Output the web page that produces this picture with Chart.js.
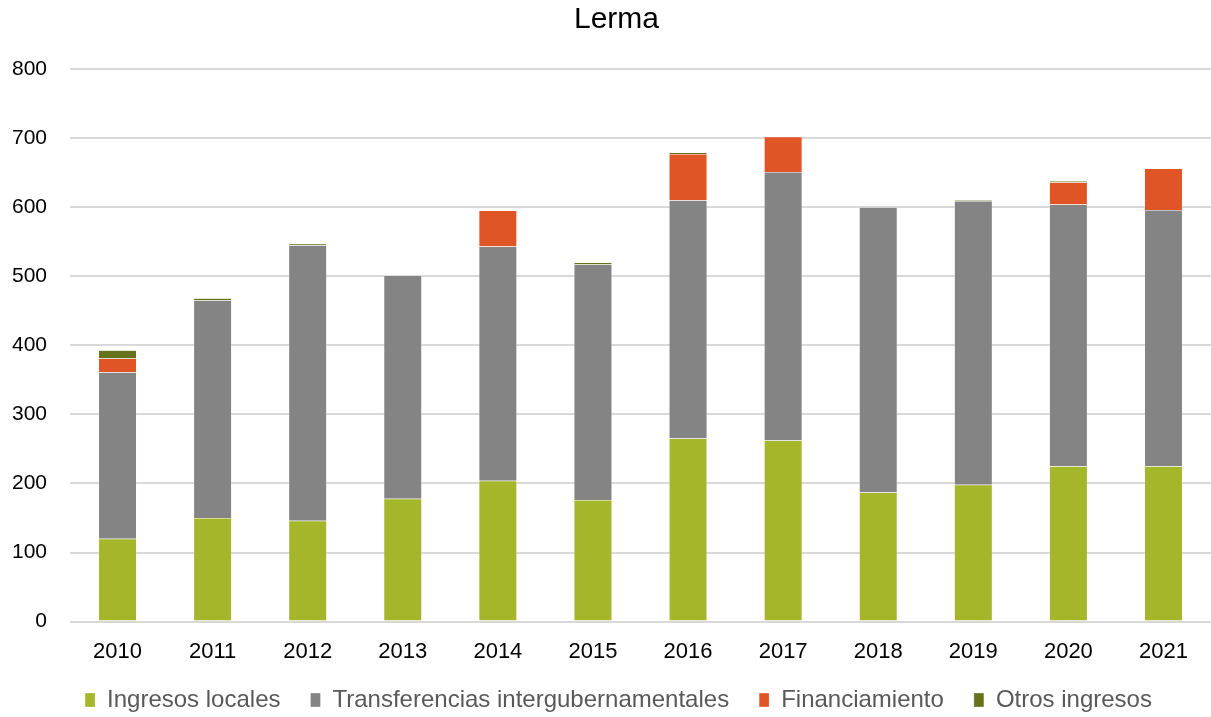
<!DOCTYPE html>
<html>
<head>
<meta charset="utf-8">
<script src="https://cdn.jsdelivr.net/npm/chart.js@4.4.1/dist/chart.umd.min.js"></script>
<style>
  html, body { margin: 0; padding: 0; background: #fff; }
  #wrap { width: 1211px; height: 717px; }
</style>
</head>
<body>
<div id="wrap"><canvas id="myChart" width="1211" height="717"></canvas></div>
<script>
// data (values per year)
const years = ["2010", "2011", "2012", "2013", "2014", "2015", "2016", "2017", "2018", "2019", "2020", "2021"];
const ingresosLocales = [120, 150, 146, 178, 204, 176, 265, 262, 187, 198, 225, 225];
const transferencias = [241, 315, 399, 323, 339, 341, 345, 389, 413, 411, 379, 371];
const financiamiento = [20, 0, 0, 0, 52, 0, 67, 51, 0, 0, 32, 60];
const otrosIngresos = [12, 3, 2, 0, 0, 3, 2, 0, 0, 1, 2, 0];
const yTicks = [0, 100, 200, 300, 400, 500, 600, 700, 800];

const fontFam = "'Liberation Sans', Arial, sans-serif";

function makeSet(label, data, color) {
  return {
    label: label,
    data: data,
    backgroundColor: color,
    borderColor: "rgba(255,255,255,0.6)",
    borderWidth: 0.5,
    barPercentage: 0.4,
    categoryPercentage: 1.0,
  };
}

// move the legend / title where the original has them
const placeBoxes = {
  id: "placeBoxes",
  afterLayout(chart) {
    const lg = chart.legend;
    lg.top = 658;
    lg.bottom = 717;
    lg.left += 10;
    lg.right += 10;
    const tb = chart.titleBlock;
    tb.left += 8;
    tb.right += 8;
  },
};

const config = {
  type: "bar",
  data: {
    labels: years,
    datasets: [
      makeSet("Ingresos locales", ingresosLocales, "#A5B62A"),
      makeSet("Transferencias intergubernamentales", transferencias, "#848484"),
      makeSet("Financiamiento", financiamiento, "#E05526"),
      makeSet("Otros ingresos", otrosIngresos, "#66731A"),
    ],
  },
  plugins: [placeBoxes],
  options: {
    responsive: false,
    animation: false,
    layout: { padding: { left: 6, right: 0, top: 2, bottom: 0 } },
    plugins: {
      title: {
        display: true,
        text: "Lerma",
        color: "#000",
        font: { family: fontFam, size: 30, weight: "normal" },
        padding: { top: 0, bottom: 31 },
      },
      legend: {
        position: "bottom",
        maxHeight: 35,
        labels: {
          color: "#595959",
          font: { family: fontFam, size: 24 },
          boxWidth: 10,
          boxHeight: 14,
          padding: 30,
        },
      },
      tooltip: { enabled: false },
    },
    scales: {
      x: {
        stacked: true,
        grid: { display: false, drawTicks: false },
        border: { display: false },
        ticks: { color: "#000", font: { family: fontFam, size: 22 }, padding: 17 },
      },
      y: {
        stacked: true,
        min: 0,
        max: 800,
        afterBuildTicks: (axis) => {
          axis.ticks = yTicks.map((v) => ({ value: v }));
        },
        afterFit: (axis) => {
          axis.width = 64;
        },
        grid: { color: "#d9d9d9", lineWidth: 2, drawTicks: false },
        border: { display: false },
        ticks: { color: "#000", font: { family: fontFam, size: 21 }, padding: 23 },
      },
    },
  },
};

var myChart = new Chart(document.getElementById("myChart"), config);
</script>
</body>
</html>
